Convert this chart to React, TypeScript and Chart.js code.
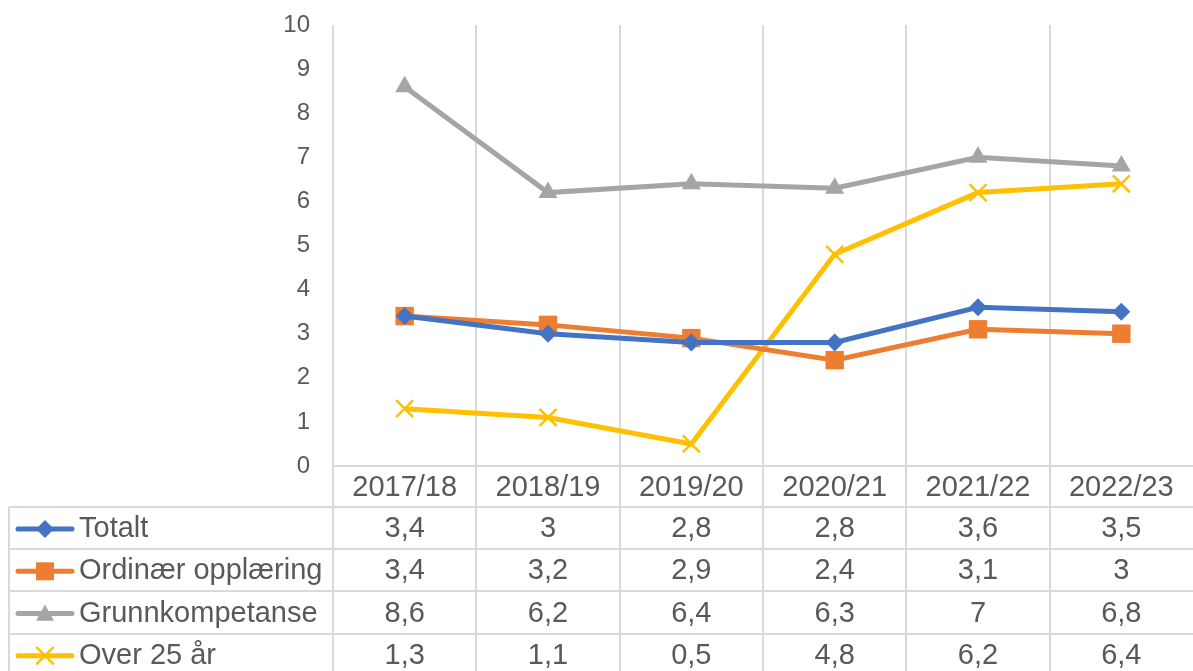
import React, { useEffect, useRef } from "react";
import { Chart, registerables } from "chart.js";

Chart.register(...registerables);

const categories = ["2017/18", "2018/19", "2019/20", "2020/21", "2021/22", "2022/23"];
const seriesNames = ["Totalt", "Ordinær opplæring", "Grunnkompetanse", "Over 25 år"];
const totalt = [3.4, 3, 2.8, 2.8, 3.6, 3.5];
const ordinaer = [3.4, 3.2, 2.9, 2.4, 3.1, 3];
const grunnkompetanse = [8.6, 6.2, 6.4, 6.3, 7, 6.8];
const over25 = [1.3, 1.1, 0.5, 4.8, 6.2, 6.4];
const yTicks = [0, 1, 2, 3, 4, 5, 6, 7, 8, 9, 10];

const colors = ["#4472C4", "#ED7D31", "#A5A5A5", "#FFC000"];
const pointStyles = ["rectRot", "rect", "triangle", "crossRot"];
const pointRadii = [9, 13, 11, 12];
const seriesValues = [totalt, ordinaer, grunnkompetanse, over25];

const TEXT = "#595959";
const GRID = "#D9D9D9";
const FONT = "'Liberation Sans', Arial, sans-serif";

const fmt = (v: number) => String(v).replace(".", ",");

function drawMarker(ctx: CanvasRenderingContext2D, style: string, x: number, y: number, color: string) {
  ctx.save();
  ctx.fillStyle = color;
  ctx.strokeStyle = color;
  ctx.beginPath();
  if (style === "rectRot") {
    const r = 9;
    ctx.moveTo(x, y - r);
    ctx.lineTo(x + r, y);
    ctx.lineTo(x, y + r);
    ctx.lineTo(x - r, y);
    ctx.closePath();
    ctx.fill();
  } else if (style === "rect") {
    const r = 9;
    ctx.fillRect(x - r, y - r, 2 * r, 2 * r);
  } else if (style === "triangle") {
    const r = 9;
    ctx.moveTo(x, y - r);
    ctx.lineTo(x + r, y + r * 0.8);
    ctx.lineTo(x - r, y + r * 0.8);
    ctx.closePath();
    ctx.fill();
  } else {
    const r = 8;
    ctx.lineWidth = 2.5;
    ctx.moveTo(x - r, y - r);
    ctx.lineTo(x + r, y + r);
    ctx.moveTo(x + r, y - r);
    ctx.lineTo(x - r, y + r);
    ctx.stroke();
  }
  ctx.restore();
}

const tablePlugin = {
  id: "tablePlugin",
  beforeDatasetsDraw(chart: any) {
    const ctx = chart.ctx as CanvasRenderingContext2D;
    const xs = chart.scales.x;
    const area = chart.chartArea;
    const n = categories.length;
    const colW = xs.getPixelForValue(1) - xs.getPixelForValue(0);
    ctx.save();
    ctx.strokeStyle = GRID;
    ctx.lineWidth = 2;
    for (let i = 0; i < n; i++) {
      const bx = Math.round(xs.getPixelForValue(i) - colW / 2);
      ctx.beginPath();
      ctx.moveTo(bx, area.top);
      ctx.lineTo(bx, chart.height);
      ctx.stroke();
    }
    const ly = Math.round(chart.scales.y.getPixelForValue(0));
    ctx.beginPath();
    ctx.moveTo(area.left, ly);
    ctx.lineTo(area.right, ly);
    ctx.stroke();
    ctx.restore();
  },
  afterDraw(chart: any) {
    const ctx = chart.ctx as CanvasRenderingContext2D;
    const xs = chart.scales.x;
    const area = chart.chartArea;
    const axisY = chart.scales.y.getPixelForValue(0);
    const headerBottom = 507;
    const rowH = 42.2;
    const tableLeft = 9;
    ctx.save();
    ctx.strokeStyle = GRID;
    ctx.lineWidth = 2;
    for (let r = 0; r <= seriesNames.length; r++) {
      const y = Math.round(headerBottom + r * rowH);
      ctx.beginPath();
      ctx.moveTo(tableLeft, y);
      ctx.lineTo(area.right, y);
      ctx.stroke();
    }
    ctx.beginPath();
    ctx.moveTo(tableLeft, headerBottom);
    ctx.lineTo(tableLeft, chart.height);
    ctx.stroke();

    ctx.fillStyle = TEXT;
    ctx.font = `29px ${FONT}`;
    ctx.textBaseline = "middle";
    ctx.textAlign = "center";
    const headerY = (axisY + headerBottom) / 2 + 1;
    categories.forEach((c, i) => {
      ctx.fillText(c, xs.getPixelForValue(i), headerY);
    });
    seriesNames.forEach((name, r) => {
      const cy = headerBottom + r * rowH + rowH / 2 + 1;
      ctx.strokeStyle = colors[r];
      ctx.lineWidth = 5;
      ctx.lineCap = "round";
      ctx.beginPath();
      ctx.moveTo(18, cy);
      ctx.lineTo(72, cy);
      ctx.stroke();
      drawMarker(ctx, pointStyles[r], 45, cy, colors[r]);
      ctx.fillStyle = TEXT;
      ctx.textAlign = "left";
      ctx.fillText(name, 79, cy);
      ctx.textAlign = "center";
      seriesValues[r].forEach((v, i) => {
        ctx.fillText(fmt(v), xs.getPixelForValue(i), cy);
      });
    });
    ctx.restore();
  },
};

export default function App() {
  const ref = useRef<HTMLCanvasElement | null>(null);
  useEffect(() => {
    if (!ref.current) return;
    const chart = new Chart(ref.current, {
      type: "line",
      data: {
        labels: categories,
        datasets: seriesValues.map((vals, i) => ({
          label: seriesNames[i],
          data: vals,
          borderColor: colors[i],
          backgroundColor: colors[i],
          borderWidth: 5,
          tension: 0,
          pointStyle: pointStyles[i] as any,
          pointRadius: pointRadii[i],
          pointBorderWidth: i === 3 ? 2.5 : 0,
          pointBackgroundColor: colors[i],
          pointBorderColor: colors[i],
        })),
      },
      options: {
        animation: false,
        responsive: false,
        maintainAspectRatio: false,
        layout: { autoPadding: false, padding: { left: 0, right: 0, top: 25, bottom: 205 } },
        plugins: { legend: { display: false }, tooltip: { enabled: false } },
        scales: {
          x: {
            display: false,
            offset: true,
          },
          y: {
            min: 0,
            max: 10,
            afterFit: (s: any) => {
              s.width = 333;
              s.paddingTop = 0;
              s.paddingBottom = 0;
            },
            afterBuildTicks: (s: any) => {
              s.ticks = yTicks.map((v) => ({ value: v }));
            },
            grid: { display: false, drawTicks: false },
            border: { display: false },
            ticks: {
              color: TEXT,
              padding: 23,
              font: { size: 24, family: FONT },
            },
          },
        },
      },
      plugins: [tablePlugin],
    });
    return () => chart.destroy();
  }, []);
  return (
    <div style={{ position: "fixed", left: 0, top: 0, width: 1193, height: 671, background: "#fff" }}>
      <canvas ref={ref} width={1193} height={671} style={{ width: 1193, height: 671 }} />
    </div>
  );
}
